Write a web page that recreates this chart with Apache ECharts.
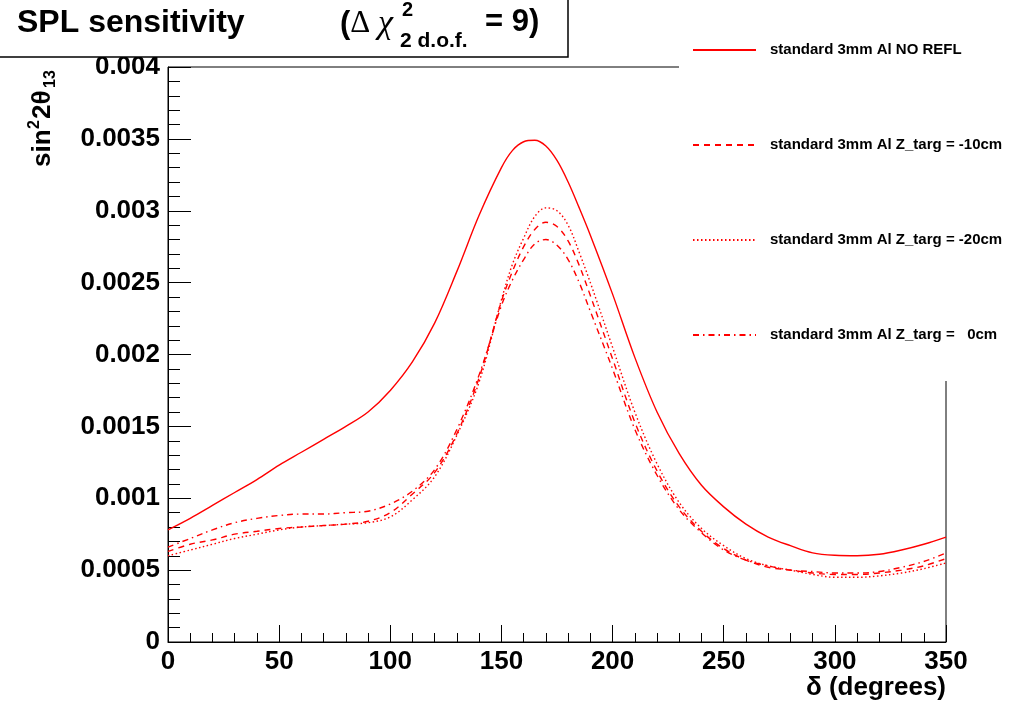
<!DOCTYPE html>
<html>
<head>
<meta charset="utf-8">
<script src="https://cdn.jsdelivr.net/npm/echarts@6/dist/echarts.min.js"></script>
<style>html,body{margin:0;padding:0;background:#fff}#chart{width:1016px;height:706px}</style>
</head>
<body>
<div id="chart"></div>
<script>
const deltas = [0,10,20,30,40,50,60,70,80,90,100,110,120,130,140,150,155,160,165,170,175,180,185,190,200,210,220,230,240,250,260,270,280,290,300,310,320,330,340,350];
const noRefl = [0.00078,0.00086,0.00095,0.00104,0.00113,0.00123,0.00132,0.00141,0.00150,0.00160,0.00175,0.00195,0.00222,0.00258,0.00297,0.00330,
  0.00342,0.00348,0.00349,0.00345,0.00335,0.00320,0.00302,0.00283,
  0.00242,0.00198,0.00160,0.00131,0.00109,0.00094,0.00082,0.00073,0.00067,0.00062,0.000603,0.00060,0.00061,0.00064,0.00068,0.00073];
const zMinus10 = [0.00063,0.00068,0.00071,0.00075,0.00077,0.00079,0.00080,0.00081,0.00082,0.00084,0.00090,0.00103,0.00118,0.00145,0.00184,0.00237,
  0.00258,0.00275,0.00287,0.00292,0.00289,0.00279,0.00262,0.00241,
  0.00197,0.00153,0.00119,0.00094,0.00077,0.00065,0.00057,0.00052,0.00050,0.00048,0.00047,0.00047,0.00048,0.00050,0.00053,0.00058];
const zMinus20 = [0.00060,0.00064,0.00068,0.00072,0.00075,0.00078,0.00080,0.00081,0.00082,0.00083,0.00087,0.00099,0.00115,0.00144,0.00181,0.00238,
  0.00263,0.00281,0.00296,0.00302,0.00300,0.00290,0.00271,0.00250,
  0.00205,0.00160,0.00124,0.00097,0.00079,0.00067,0.00058,0.00053,0.00050,0.00047,0.00045,0.00045,0.00046,0.00048,0.00051,0.00055];
const zZero = [0.00066,0.00072,0.00078,0.00083,0.00086,0.00088,0.00089,0.00089,0.00090,0.00091,0.00096,0.00105,0.00120,0.00148,0.00186,0.00234,
  0.00252,0.00266,0.00277,0.00280,0.00276,0.00266,0.00250,0.00230,
  0.00190,0.00148,0.00116,0.00092,0.00076,0.00064,0.00057,0.00053,0.00050,0.00049,0.00048,0.00048,0.00049,0.00052,0.00056,0.00062];
const seriesNames = ['standard 3mm Al NO REFL','standard 3mm Al Z_targ = -10cm','standard 3mm Al Z_targ = -20cm','standard 3mm Al Z_targ =   0cm'];
const xTickLabels = ['0','50','100','150','200','250','300','350'];
const yTickLabels = ['0','0.0005','0.001','0.0015','0.002','0.0025','0.003','0.0035','0.004'];

const FONT = '"Liberation Sans", Arial, Helvetica, sans-serif';
const SERIF = '"Liberation Serif", "DejaVu Serif", serif';
const pairs = ys => deltas.map((d, i) => [d, ys[i]]);
const dashTypes = ['solid', [6, 5], [1.5, 2.5], [6, 4, 1.5, 4]];
const values = [noRefl, zMinus10, zMinus20, zZero];

const chart = echarts.init(document.getElementById('chart'), null, {renderer: 'canvas'});
chart.setOption({
  backgroundColor: '#fff',
  animation: false,
  grid: {left: 168, right: 70, top: 67, bottom: 64, containLabel: false, outerBoundsMode: 'none',
         show: true, borderColor: '#000', borderWidth: 1, backgroundColor: 'transparent'},
  xAxis: {
    type: 'value', min: 0, max: 350, interval: 50,
    axisLine: {show: true, lineStyle: {color: '#000', width: 1}},
    axisTick: {show: true, inside: true, length: 17, lineStyle: {color: '#000', width: 1}},
    minorTick: {show: true, splitNumber: 5, length: 9, lineStyle: {color: '#000', width: 1}},
    splitLine: {show: false},
    axisLabel: {margin: 7, color: '#000', fontFamily: FONT, fontWeight: 'bold', fontSize: 26,
      showMinLabel: true, showMaxLabel: true,
      formatter: v => xTickLabels[Math.round(v / 50)]}
  },
  yAxis: {
    type: 'value', min: 0, max: 0.004, interval: 0.0005,
    axisLine: {show: true, lineStyle: {color: '#000', width: 1}},
    axisTick: {show: true, inside: true, length: 23, lineStyle: {color: '#000', width: 1}},
    minorTick: {show: true, splitNumber: 5, length: 12, lineStyle: {color: '#000', width: 1}},
    splitLine: {show: false},
    axisLabel: {margin: 8, color: '#000', fontFamily: FONT, fontWeight: 'bold', fontSize: 26,
      showMinLabel: true, showMaxLabel: true,
      formatter: v => yTickLabels[Math.round(v / 0.0005)]}
  },
  legend: {
    orient: 'vertical', left: 692, top: 42, z: 20, padding: 0,
    icon: 'inherit',
    itemWidth: 63, itemHeight: 16, itemGap: 79,
    itemStyle: {opacity: 0, borderWidth: 0},
    textStyle: {color: '#000', fontFamily: FONT, fontWeight: 'bold', fontSize: 15, lineHeight: 16, padding: [0, 0, 0, 9]},
    data: seriesNames
  },
  series: seriesNames.map((name, k) => ({
    name: name, type: 'line', data: pairs(values[k]),
    smooth: 0.35, symbol: 'none', showSymbol: false,
    lineStyle: {color: '#ff0000', width: 1.4, type: dashTypes[k]},
    itemStyle: {color: '#ff0000'},
    z: 2
  })),
  graphic: [
    {type: 'rect', z: 10, shape: {x: 679, y: 0, width: 337, height: 381}, style: {fill: '#fff'}},
    {type: 'rect', z: 10, shape: {x: -2, y: -2, width: 570, height: 59}, style: {fill: '#fff', stroke: '#000', lineWidth: 1.5}},
    {type: 'text', z: 11, left: 17, top: 7, style: {text: 'SPL sensitivity', fill: '#000', font: 'bold 32px ' + FONT}},
    {type: 'text', z: 11, left: 340, top: 7, style: {text: '{p|(}{g|Δ }{c|χ}', fill: '#000',
      rich: {p: {fontSize: 31, fontWeight: 'bold', fontFamily: FONT},
             g: {fontSize: 31, fontFamily: SERIF},
             c: {fontSize: 34, fontFamily: SERIF, fontStyle: 'italic'}}}},
    {type: 'text', z: 11, left: 402, top: 0, style: {text: '2', fill: '#000', font: 'bold 20px ' + FONT}},
    {type: 'text', z: 11, left: 400, top: 31, style: {text: '2 d.o.f.', fill: '#000', font: 'bold 21px ' + FONT}},
    {type: 'text', z: 11, left: 485, top: 7, style: {text: '= 9)', fill: '#000', font: 'bold 31px ' + FONT}},
    {type: 'group', x: 30, y: 167, rotation: Math.PI / 2, z: 11, children: [
      {type: 'text', x: 0, y: 0, style: {text: 'sin', fill: '#000', font: 'bold 26px ' + FONT, textVerticalAlign: 'top'}},
      {type: 'text', x: 38, y: -3, style: {text: '2', fill: '#000', font: 'bold 16px ' + FONT, textVerticalAlign: 'top'}},
      {type: 'text', x: 48, y: 0, style: {text: '2θ', fill: '#000', font: 'bold 26px ' + FONT, textVerticalAlign: 'top'}},
      {type: 'text', x: 79, y: 13, style: {text: '13', fill: '#000', font: 'bold 16px ' + FONT, textVerticalAlign: 'top'}}
    ]},
    {type: 'text', z: 11, right: 70, top: 675, style: {text: 'δ (degrees)', fill: '#000', font: 'bold 26px ' + FONT}}
  ]
});
</script>
</body>
</html>
